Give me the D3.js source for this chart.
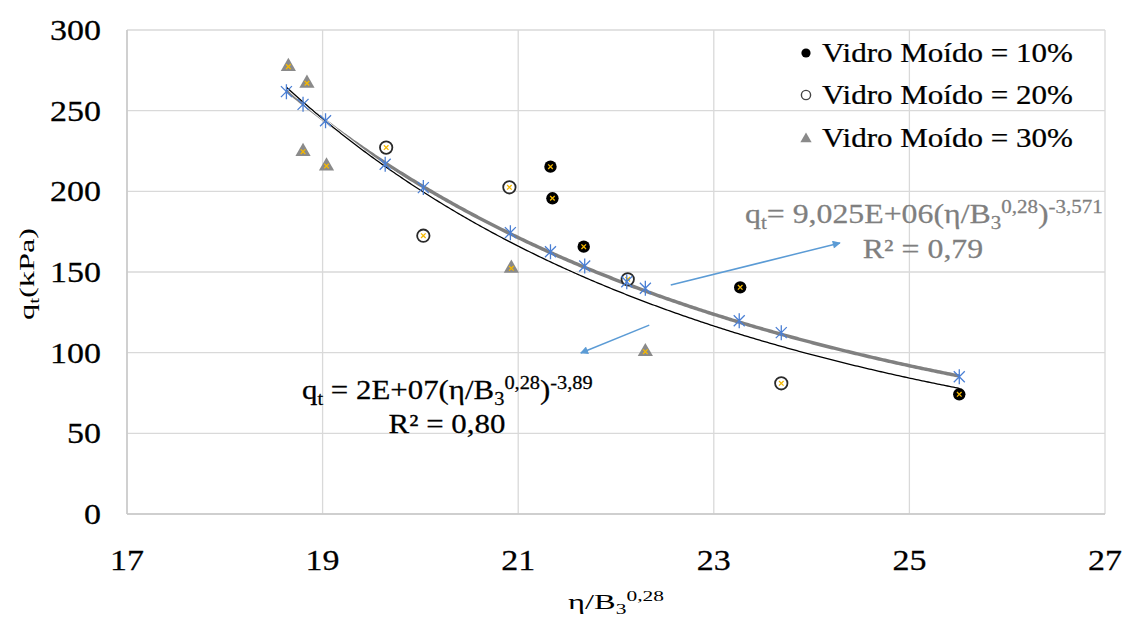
<!DOCTYPE html>
<html><head><meta charset="utf-8">
<script src="https://cdn.jsdelivr.net/npm/d3@7"></script>
<style>html,body{margin:0;padding:0;background:#fff;} svg{display:block;font-family:"Liberation Serif","Times New Roman",serif;}</style>
</head><body><svg id="c" width="1126" height="619"></svg>
<script>
// ---- data ----
const xTicks = [17, 19, 21, 23, 25, 27];
const yTicks = [0, 50, 100, 150, 200, 250, 300];
const series10X = [21.33, 21.35, 21.67, 23.27, 25.51];
const series10Y = [215.3, 195.7, 165.7, 140.5, 74.2];
const series20X = [19.65, 20.03, 20.91, 22.12, 23.69];
const series20Y = [227.1, 172.5, 202.5, 145.5, 81.0];
const series30X = [18.65, 18.84, 18.80, 19.04, 20.93, 22.30];
const series30Y = [277.3, 267.0, 224.6, 215.7, 152.3, 100.6];
const predX = [18.63, 18.80, 19.03, 19.64, 20.03, 20.92, 21.33, 21.68, 22.11, 22.30, 23.26, 23.69, 25.51];
const predY = [261.8, 253.9, 243.8, 216.8, 202.3, 174.4, 162.6, 153.7, 144.0, 139.9, 119.8, 112.4, 85.1];
const legendLabels = ["Vidro Moído = 10%", "Vidro Moído = 20%", "Vidro Moído = 30%"];
const fitGrayA = 9.025e6, fitGrayB = -3.571;
const fitBlackA = 2.31e7, fitBlackB = -3.89;
const fitRange = [18.63, 25.51];
const arrow1 = [[22.56, 141.9], [24.29, 168.0]];
const arrow2 = [[22.34, 117.1], [21.64, 99.8]];

// ---- layout ----
const svg = d3.select('#c');
const x = d3.scaleLinear().domain([17, 27]).range([127, 1105]);
const y = d3.scaleLinear().domain([0, 300]).range([514, 30]);
const GRID = '#d9d9d9';
const GOLD = '#F5B800';
const BLUE = '#4a7fd4';

// gridlines
svg.append('g').selectAll('line.h').data(yTicks).join('line')
  .attr('x1', x(17)).attr('x2', x(27)).attr('y1', d => y(d)).attr('y2', d => y(d))
  .attr('stroke', GRID).attr('stroke-width', 1.3);
svg.append('g').selectAll('line.v').data(xTicks).join('line')
  .attr('x1', d => x(d)).attr('x2', d => x(d)).attr('y1', y(0)).attr('y2', y(300))
  .attr('stroke', GRID).attr('stroke-width', 1.3);
svg.append('line').attr('x1', x(17)).attr('x2', x(17)).attr('y1', y(0)).attr('y2', y(300)).attr('stroke', '#c8c8c8').attr('stroke-width', 1.5);
svg.append('line').attr('x1', x(17)).attr('x2', x(27)).attr('y1', y(0)).attr('y2', y(0)).attr('stroke', '#c8c8c8').attr('stroke-width', 1.5);

// text helper with sub/sup parts and horizontal stretch
function stext(parent, px, py, anchor, size, fill, parts, rot, sw) {
  const g = parent.append('g').attr('transform', `translate(${px},${py})` + (rot ? ` rotate(${rot})` : ''));
  const t = g.append('text').attr('text-anchor', anchor).attr('font-size', size).attr('fill', fill)
    .attr('stroke', fill).attr('stroke-width', sw === undefined ? 0.25 : sw);
  let cur = 0;
  parts.forEach(([s, k]) => {
    const target = k === 'sub' ? size * 0.22 : k === 'sup' ? -size * 0.36 : 0;
    const ts = t.append('tspan').attr('dy', target - cur).text(s);
    if (k !== 'n') ts.attr('font-size', size * 0.66);
    cur = target;
  });
  return t;
}
function fitWidth(t, w) { const sx = w / t.node().getBBox().width; t.attr('transform', `scale(${sx},1)`); return sx; }

// tick labels
const ref = stext(svg, -500, -500, 'end', 29, '#000', [['300', 'n']]);
const tickSx = 51 / ref.node().getBBox().width;
ref.node().parentNode.remove();
yTicks.forEach(v => {
  stext(svg, 101, y(v) + 10, 'end', 29, '#000', [[String(v), 'n']]).attr('transform', `scale(${tickSx},1)`);
});
xTicks.forEach(v => {
  stext(svg, x(v), 570, 'middle', 29, '#000', [[String(v), 'n']]).attr('transform', `scale(${tickSx},1)`);
});

// axis titles
fitWidth(stext(svg, 616, 609, 'middle', 21, '#000', [['η/B', 'n'], ['3', 'sub'], ['0,28', 'sup']], 0, 0), 96);
fitWidth(stext(svg, 34, 274, 'middle', 22, '#000', [['q', 'n'], ['t', 'sub'], ['(kPa)', 'n']], -90, 0), 92);

// fit curves
const samples = d3.range(fitRange[0], fitRange[1] + 1e-9, 0.02);
const lineGen = d3.line().x(d => x(d[0])).y(d => y(d[1])).curve(d3.curveLinear);
svg.append('path').datum(samples.map(v => [v, fitGrayA * Math.pow(v, fitGrayB)]))
  .attr('d', lineGen).attr('fill', 'none').attr('stroke', '#808080').attr('stroke-width', 3.5);
const blackPts = samples.map(v => [v, fitBlackA * Math.pow(v, fitBlackB)]);
svg.append('path').datum(blackPts).attr('d', lineGen).attr('fill', 'none').attr('stroke', '#fff').attr('stroke-width', 3.0);
svg.append('path').datum(blackPts).attr('d', lineGen).attr('fill', 'none').attr('stroke', '#000').attr('stroke-width', 1.3);

// markers
function goldX(sel, px, py) {
  const s = 2.3;
  sel.append('path').attr('d', `M${px - s},${py - s}L${px + s},${py + s}M${px - s},${py + s}L${px + s},${py - s}`)
    .attr('stroke', GOLD).attr('stroke-width', 1.3);
}
const gm = svg.append('g');
series30X.forEach((xv, i) => {
  gm.append('path').attr('d', d3.symbol(d3.symbolTriangle, 100)()).attr('transform', `translate(${x(xv)},${y(series30Y[i])})`)
    .attr('fill', '#8a8a8a');
  goldX(gm, x(xv), y(series30Y[i]));
});
series20X.forEach((xv, i) => {
  gm.append('circle').attr('cx', x(xv)).attr('cy', y(series20Y[i])).attr('r', 6.2)
    .attr('fill', '#fff').attr('stroke', '#2a2a2a').attr('stroke-width', 1.8);
  goldX(gm, x(xv), y(series20Y[i]));
});
series10X.forEach((xv, i) => {
  gm.append('circle').attr('cx', x(xv)).attr('cy', y(series10Y[i])).attr('r', 6.2).attr('fill', '#000');
  goldX(gm, x(xv), y(series10Y[i]));
});
// predicted asterisks
predX.forEach((xv, i) => {
  const px = x(xv), py = y(predY[i]);
  gm.append('path').attr('d', `M${px - 5.5},${py - 5.5}L${px + 5.5},${py + 5.5}M${px - 5.5},${py + 5.5}L${px + 5.5},${py - 5.5}M${px},${py - 7.5}L${px},${py + 7.5}`)
    .attr('stroke', BLUE).attr('stroke-width', 1.3).attr('fill', 'none');
});

// arrows
const defs = svg.append('defs');
defs.append('marker').attr('id', 'ah').attr('viewBox', '0 0 10 10').attr('refX', 9).attr('refY', 5)
  .attr('markerWidth', 11).attr('markerHeight', 8).attr('markerUnits', 'userSpaceOnUse').attr('orient', 'auto')
  .append('path').attr('d', 'M0,0L10,5L0,10Z').attr('fill', '#5b9bd5');
[arrow1, arrow2].forEach(a => {
  svg.append('line').attr('x1', x(a[0][0])).attr('y1', y(a[0][1])).attr('x2', x(a[1][0])).attr('y2', y(a[1][1]))
    .attr('stroke', '#5b9bd5').attr('stroke-width', 1.5).attr('marker-end', 'url(#ah)');
});

// equations
const grayTxt = '#7f7f7f';
const gsx = fitWidth(stext(svg, 745, 223, 'start', 27, grayTxt,
  [['q', 'n'], ['t', 'sub'], ['= 9,025E+06(η/B', 'n'], ['3', 'sub'], ['0,28', 'sup'], [')', 'n'], ['-3,571', 'sup']]), 358);
stext(svg, 923, 258, 'middle', 27, grayTxt, [['R² = 0,79', 'n']]).attr('transform', `scale(${gsx},1)`);
const bsx = fitWidth(stext(svg, 302, 399, 'start', 27, '#000',
  [['q', 'n'], ['t', 'sub'], [' = 2E+07(η/B', 'n'], ['3', 'sub'], ['0,28', 'sup'], [')', 'n'], ['-3,89', 'sup']]), 291);
stext(svg, 447, 433, 'middle', 27, '#000', [['R² = 0,80', 'n']]).attr('transform', `scale(${bsx},1)`);

// legend
const lg = svg.append('g');
const rowY = [62, 104, 147];
let lsx = null;
legendLabels.forEach((lab, i) => {
  const t = stext(lg, 822, rowY[i], 'start', 27, '#000', [[lab, 'n']]);
  if (lsx === null) lsx = fitWidth(t, 251); else t.attr('transform', `scale(${lsx},1)`);
});
lg.append('circle').attr('cx', 806).attr('cy', 53).attr('r', 4.6).attr('fill', '#000');
lg.append('circle').attr('cx', 806).attr('cy', 95).attr('r', 4.6).attr('fill', '#fff').attr('stroke', '#444').attr('stroke-width', 1.4);
lg.append('path').attr('d', d3.symbol(d3.symbolTriangle, 55)()).attr('transform', 'translate(806,139)').attr('fill', '#8a8a8a');
</script></body></html>
